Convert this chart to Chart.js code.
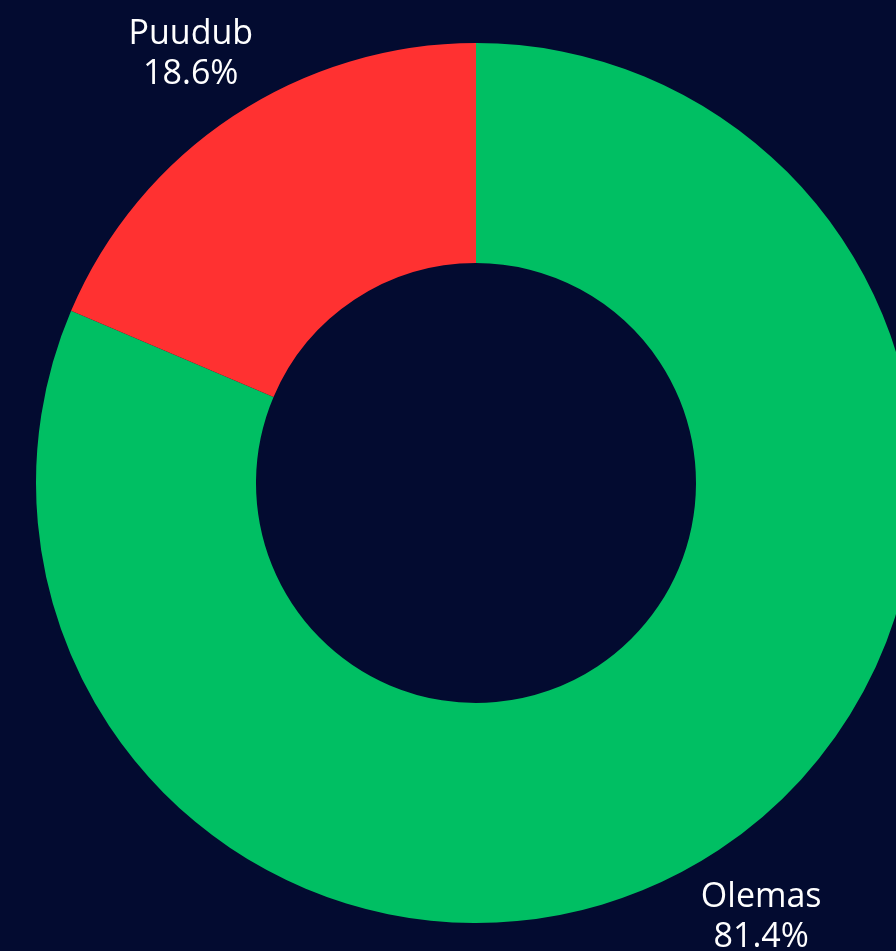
<!DOCTYPE html>
<html>
<head>
<meta charset="utf-8">
<script src="https://cdn.jsdelivr.net/npm/chart.js@4.4.1/dist/chart.umd.min.js"></script>
<style>
  html, body { margin: 0; padding: 0; background: #030b30; overflow: hidden; width: 896px; height: 951px; }
  #wrap { position: absolute; left: 0; top: 0; width: 952px; height: 966px; }
</style>
</head>
<body>
<div id="wrap"><canvas id="donut" width="952" height="966"></canvas></div>
<script>
// datos del gráfico
const categorias = ["Olemas", "Puudub"];
const valores = [81.4, 18.6];
const colores = ["#00bf63", "#ff3131"];

// etiquetas fuera del anillo
const etiquetasFuera = {
  id: "etiquetasFuera",
  afterDraw(chart) {
    const ctx = chart.ctx;
    const meta = chart.getDatasetMeta(0);
    ctx.save();
    ctx.fillStyle = "#ffffff";
    ctx.font = "34px 'Open Sans'";
    ctx.textAlign = "center";
    ctx.textBaseline = "middle";
    meta.data.forEach((arc, i) => {
      const p = arc.getProps(["x", "y", "startAngle", "endAngle", "outerRadius"], true);
      const ang = (p.startAngle + p.endAngle) / 2;
      const r = p.outerRadius + 77;
      const x = p.x + Math.cos(ang) * r;
      const y = p.y + Math.sin(ang) * r;
      ctx.fillText(categorias[i], x, y - 17);
      ctx.fillText(valores[i].toFixed(1) + "%", x, y + 23);
    });
    ctx.restore();
  }
};

new Chart(document.getElementById("donut").getContext("2d"), {
  type: "doughnut",
  data: {
    labels: categorias,
    datasets: [{
      data: valores,
      backgroundColor: colores,
      borderWidth: 0,
      hoverOffset: 0
    }]
  },
  options: {
    responsive: false,
    animation: false,
    cutout: "50%",
    layout: { padding: { left: 36, right: 36, top: 43, bottom: 43 } },
    plugins: {
      legend: { display: false },
      tooltip: { enabled: false }
    }
  },
  plugins: [etiquetasFuera]
});
</script>
</body>
</html>
